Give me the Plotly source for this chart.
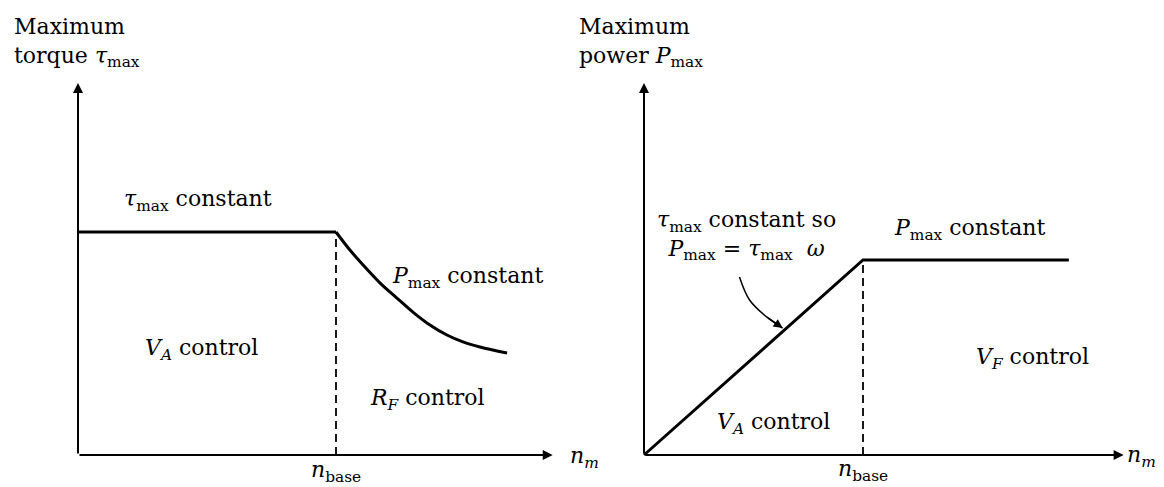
"""DC motor speed control: maximum torque and maximum power versus speed."""

import plotly.graph_objects as go

# left panel: maximum torque vs speed (speed in units of n_base)
flat_speed = [0.0, 1.0]
flat_torque = [1.0, 1.0]
curve_speed = [1.0, 1.054, 1.105, 1.171, 1.236, 1.298, 1.364, 1.43, 1.492, 1.558, 1.663]
curve_torque = [1.0, 0.919, 0.852, 0.771, 0.704, 0.641, 0.583, 0.538, 0.507, 0.484, 0.457]

# right panel: maximum power vs speed
power_speed = [0.0, 1.0, 1.94]
power_max = [0.0, 1.0, 1.0]

# callout arrow pointing at the rising power line
callout_x = [0.436, 0.482, 0.560, 0.633]
callout_y = [0.913, 0.795, 0.708, 0.651]

N_BASE = 1.0
AXIS_END_LEFT = (1.84, 1.668)
AXIS_END_RIGHT = (2.19, 1.908)

W, H = 1164, 487
PAD = 8  # default body margin of the page
FW, FH = W - PAD, H - PAD
FONT = "DejaVu Serif"
FS = 22

# page-pixel position of each panel's origin and its pixels per unit
LEFT_ORIGIN, LEFT_SCALE = (78, 455), (258, 223)
RIGHT_ORIGIN, RIGHT_SCALE = (644, 455), (219, 195)


def ranges(origin, scale, x0_px, x1_px):
    ox, oy = origin[0] - PAD, origin[1] - PAD
    sx, sy = scale
    xr = [(x0_px - ox) / sx, (x1_px - ox) / sx]
    yr = [-(FH - oy) / sy, oy / sy]
    return xr, yr


lx, ly = ranges(LEFT_ORIGIN, LEFT_SCALE, 0, FW / 2)
rx, ry = ranges(RIGHT_ORIGIN, RIGHT_SCALE, FW / 2, FW)

thick = dict(color="black", width=3)
dashed = dict(color="black", width=1.8, dash="8px,5px")

fig = go.Figure()

# left panel
fig.add_trace(go.Scatter(x=flat_speed, y=flat_torque, mode="lines", line=thick))
fig.add_trace(go.Scatter(x=curve_speed, y=curve_torque, mode="lines",
                         line=dict(thick, shape="spline", smoothing=1)))
fig.add_trace(go.Scatter(x=[N_BASE, N_BASE], y=[0, flat_torque[1]],
                         mode="lines", line=dashed))

# right panel
fig.add_trace(go.Scatter(x=power_speed, y=power_max, mode="lines",
                         line=thick, xaxis="x2", yaxis="y2"))
fig.add_trace(go.Scatter(x=[N_BASE, N_BASE], y=[0, power_max[1]],
                         mode="lines", line=dashed, xaxis="x2", yaxis="y2"))
fig.add_trace(go.Scatter(x=callout_x, y=callout_y, mode="lines",
                         line=dict(color="black", width=1.5, shape="spline"),
                         xaxis="x2", yaxis="y2"))

ann = []


def arrow(xref, yref, x0, y0, x1, y1, width=2, size=1.0, head=2):
    ann.append(dict(x=x1, y=y1, ax=x0, ay=y0, xref=xref, yref=yref,
                    axref=xref, ayref=yref, text="", showarrow=True,
                    arrowhead=head, arrowsize=size, arrowwidth=width,
                    arrowcolor="black", standoff=0))


def label(xref, yref, x, y, text, xanchor="left", yanchor="middle", align="left"):
    ann.append(dict(x=x, y=y, xref=xref, yref=yref, text=text,
                    showarrow=False, xanchor=xanchor, yanchor=yanchor,
                    align=align, font=dict(family=FONT, size=FS, color="black")))


# axes with arrowheads
arrow("x", "y", 0, 0, AXIS_END_LEFT[0], 0)
arrow("x", "y", 0, 0, 0, AXIS_END_LEFT[1])
arrow("x2", "y2", 0, 0, AXIS_END_RIGHT[0], 0)
arrow("x2", "y2", 0, 0, 0, AXIS_END_RIGHT[1])
arrow("x2", "y2", callout_x[-2], callout_y[-2], callout_x[-1], callout_y[-1],
      width=1.5, size=1.2)

tau = "<i>τ</i><sub>max</sub>"
pmax = "<i>P</i><sub>max</sub>"
nbase = "<i>n</i><sub>base</sub>"
nm = "<i>n<sub>m</sub></i>"

# left panel labels
label("paper", "paper", (12 - PAD) / FW, 1 - (12 - PAD) / FH,
      "Maximum<br>torque " + tau, yanchor="top")
label("x", "y", 0.465, 1.143, tau + " constant", xanchor="center")
label("x", "y", 1.209, 0.798, pmax + " constant")
label("x", "y", 0.252, 0.471, "<i>V<sub>A</sub></i> control")
label("x", "y", 1.124, 0.251, "<i>R<sub>F</sub></i> control")
label("x", "y", N_BASE, -0.072, nbase, xanchor="center")
label("x", "y", 1.9, -0.01, nm)

# right panel labels
label("paper", "paper", (577 - PAD) / FW, 1 - (12 - PAD) / FH,
      "Maximum<br>power " + pmax, yanchor="top")
label("x2", "y2", 0.466, 1.128,
      tau + " constant so<br>" + pmax + " = " + tau + "  <i>ω</i>",
      xanchor="center", align="center")
label("x2", "y2", 1.132, 1.154, pmax + " constant")
label("x2", "y2", 1.507, 0.497, "<i>V<sub>F</sub></i> control")
label("x2", "y2", 0.324, 0.164, "<i>V<sub>A</sub></i> control")
label("x2", "y2", N_BASE, -0.082, nbase, xanchor="center")
label("x2", "y2", 2.196, -0.01, nm)

hidden = dict(visible=False, fixedrange=True)
fig.update_layout(
    width=FW,
    height=FH,
    margin=dict(l=0, r=0, t=0, b=0),
    paper_bgcolor="white",
    plot_bgcolor="white",
    showlegend=False,
    xaxis=dict(hidden, domain=[0, 0.5], range=lx),
    yaxis=dict(hidden, domain=[0, 1], range=ly),
    xaxis2=dict(hidden, domain=[0.5, 1], range=rx),
    yaxis2=dict(hidden, domain=[0, 1], range=ry),
    annotations=ann,
)

fig.write_html("out.html")
